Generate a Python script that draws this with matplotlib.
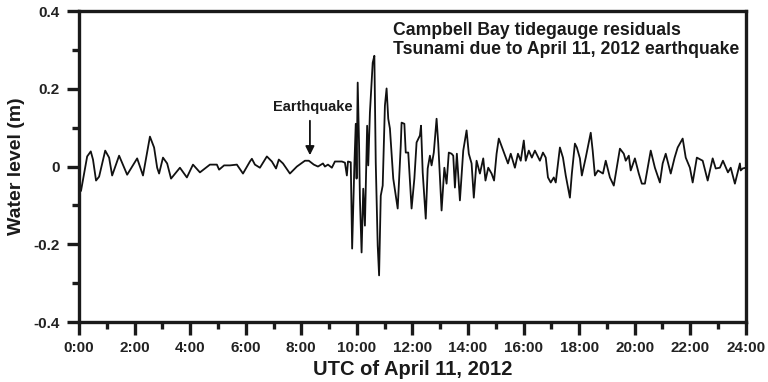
import matplotlib
matplotlib.use("Agg")
import matplotlib.pyplot as plt
import numpy as np

# residuals: time in hours (UTC), water level in m
hours = [0.07, 0.29, 0.42, 0.50, 0.61, 0.72, 0.94, 1.08, 1.19, 1.44, 1.73, 2.09, 2.30,
         2.55, 2.70, 2.81, 2.88, 3.02, 3.17, 3.31, 3.63, 3.88, 4.10, 4.35, 4.71, 4.96,
         5.04, 5.22, 5.43, 5.68, 5.90, 6.15, 6.22, 6.33, 6.51, 6.76, 6.94, 7.09, 7.19,
         7.34, 7.59, 7.84, 8.13, 8.27, 8.45, 8.60, 8.78, 8.85, 8.96, 9.10, 9.21, 9.46,
         9.57, 9.64, 9.68,
         9.78, 9.83, 9.91, 9.96, 9.99, 10.03, 10.08, 10.11, 10.17, 10.23, 10.29, 10.37,
         10.41, 10.47, 10.57, 10.63, 10.68, 10.75, 10.80, 10.86, 10.93, 11.01, 11.07,
         11.13, 11.19, 11.31, 11.47, 11.58, 11.61, 11.71, 11.76, 11.85, 11.97, 12.07,
         12.15, 12.27, 12.31, 12.37, 12.48, 12.55, 12.63, 12.69, 12.77, 12.87, 12.93,
         13.05, 13.15, 13.23, 13.31, 13.41, 13.47, 13.53, 13.60, 13.71, 13.83, 13.95,
         14.03, 14.13, 14.21, 14.31, 14.43, 14.55, 14.63, 14.73, 14.85, 14.94, 15.03,
         15.11, 15.44, 15.54, 15.69, 15.80, 15.90, 16.01, 16.08, 16.19, 16.30, 16.41,
         16.59, 16.70, 16.80, 16.88, 16.98, 17.09, 17.16, 17.31, 17.42, 17.52, 17.67,
         17.74, 17.85, 17.92, 18.03, 18.10, 18.24, 18.42, 18.49, 18.57, 18.68, 18.86,
         18.96, 19.11, 19.25, 19.47, 19.61, 19.68, 19.79, 19.86, 20.01, 20.15, 20.26,
         20.37, 20.47, 20.58, 20.73, 20.91, 21.01, 21.12, 21.30, 21.44, 21.55, 21.73,
         21.84, 21.99, 22.09, 22.24, 22.45, 22.63, 22.81, 22.92, 23.07, 23.18, 23.36,
         23.46, 23.61, 23.79, 23.82, 23.89, 24.00]
level = [-0.062, 0.026, 0.039, 0.018, -0.036, -0.026, 0.041, 0.023, -0.023, 0.028, -0.021,
         0.021, -0.023, 0.077, 0.049, -0.003, -0.018, 0.023, 0.008, -0.031, -0.003, -0.028,
         0.005, -0.015, 0.005, 0.005, -0.008, 0.003, 0.003, 0.005, -0.018, 0.013, 0.020,
         0.005, -0.003, 0.026, 0.013, -0.005, 0.018, 0.008, -0.018, 0.0, 0.015, 0.015,
         0.005, 0.0, 0.008, 0.0, 0.005, -0.003, 0.013, 0.013, 0.010, -0.023, 0.013,
         0.011, -0.211, 0.003, 0.110, -0.031, 0.216, 0.054, -0.082, -0.221, -0.057,
         -0.152, 0.105, 0.003, 0.139, 0.267, 0.285, 0.010, -0.203, -0.280, -0.075,
         -0.049, 0.157, 0.201, 0.123, 0.098, -0.031, -0.108, 0.054, 0.113, 0.110, 0.036,
         0.036, -0.108, -0.031, 0.062, 0.080, 0.105, -0.015, -0.134, -0.005, 0.028,
         0.003, 0.036, 0.123, 0.059, -0.113, -0.003, -0.044, 0.036, 0.033, 0.028,
         -0.054, 0.033, -0.087, 0.041, 0.093, 0.033, 0.008, -0.080, 0.015, -0.018,
         0.021, -0.036, -0.003, -0.018, -0.036, 0.033, 0.072, 0.008, 0.033, -0.003,
         0.033, 0.015, 0.067, 0.015, 0.041, 0.023, 0.041, 0.015, 0.036, 0.023, -0.028,
         -0.041, -0.028, -0.041, 0.049, 0.023, -0.023, -0.080, -0.018, 0.059, 0.049,
         0.021, -0.023, 0.023, 0.087, 0.041, -0.023, -0.010, -0.018, 0.015, -0.028,
         -0.049, 0.046, 0.033, 0.015, 0.028, -0.010, 0.021, -0.018, -0.044, -0.044,
         -0.003, 0.041, -0.003, -0.041, 0.008, 0.033, -0.018, 0.023, 0.049, 0.072,
         0.023, -0.003, -0.041, 0.023, 0.015, -0.036, 0.021, -0.005, -0.003, 0.015,
         -0.015, -0.003, -0.044, 0.008, -0.010, -0.005, -0.003]

x_ticks = list(range(0, 25, 2))
x_labels = ["%d:00" % h for h in x_ticks]
y_ticks = [-0.4, -0.2, 0, 0.2, 0.4]
y_labels = ["-0.4", "-0.2", "0", "0.2", "0.4"]
quake_hour = 8.31

plt.rcParams['font.family'] = ['Liberation Sans', 'DejaVu Sans']
fig = plt.figure(figsize=(7.68, 3.82), dpi=100)
ax = fig.add_axes([0.103, 0.157, 0.868, 0.814])

ax.plot(hours, level, color='#111111', lw=1.3)

ax.set_xlim(0, 24)
ax.set_ylim(-0.4, 0.4)
ax.set_xticks(x_ticks)
ax.set_xticklabels(x_labels)
ax.set_xticks(np.arange(1, 24, 2), minor=True)
ax.set_yticks(y_ticks)
ax.set_yticklabels(y_labels)
ax.set_yticks([-0.3, -0.1, 0.1, 0.3], minor=True)
ax.tick_params(which='both', top=False, right=False, direction='out', width=2.4,
               color='#1a1a1a', labelsize=11, labelcolor='#222222')
ax.tick_params(which='major', length=9, pad=5)
ax.tick_params(which='minor', length=5)
for lab in ax.get_xticklabels() + ax.get_yticklabels():
    lab.set_fontweight('bold')
for s in ax.spines.values():
    s.set_linewidth(2.4)
    s.set_color('#1a1a1a')

ax.set_xlabel("UTC of April 11, 2012", fontsize=14.5, fontweight='bold',
              color='#1a1a1a', labelpad=3)
ax.set_ylabel("Water level (m)", fontsize=14, fontweight='bold', color='#1a1a1a',
              labelpad=6)

ax.text(11.3, 0.372, "Campbell Bay tidegauge residuals\nTsunami due to April 11, 2012 earthquake",
        fontsize=12.7, fontweight='bold', color='#1a1a1a', va='top', ha='left',
        linespacing=1.15)

ax.annotate("", xy=(quake_hour, 0.022), xytext=(quake_hour, 0.125),
            arrowprops=dict(arrowstyle='-|>', color='#111111', lw=1.3,
                            mutation_scale=13))
ax.text(quake_hour + 0.1, 0.153, "Earthquake", fontsize=10.5, fontweight='bold',
        color='#1a1a1a', ha='center', va='center')

fig.savefig("out.png", dpi=100)
